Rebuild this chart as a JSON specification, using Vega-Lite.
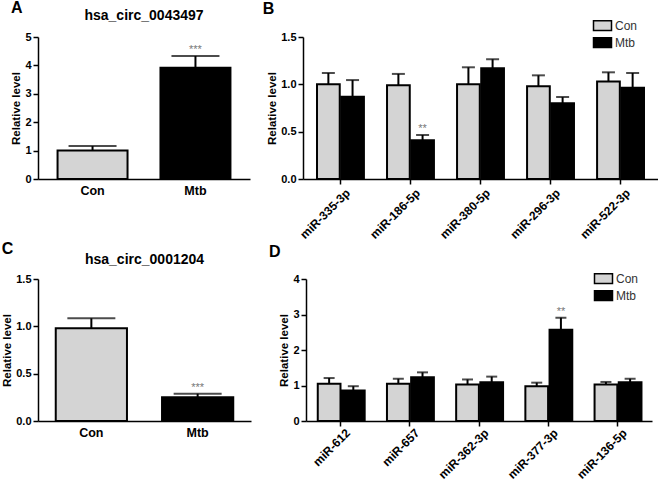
{
  "$schema": "https://vega.github.io/schema/vega-lite/v6.json",
  "padding": {"left": 1, "top": 0, "right": 0, "bottom": 0},
  "datasets": {
    "A": [
      {"group": "Con", "value": 1.0, "upper": 1.16, "sig": ""},
      {"group": "Mtb", "value": 3.92, "upper": 4.33, "sig": "***"}
    ],
    "C": [
      {"group": "Con", "value": 0.98, "upper": 1.085, "sig": ""},
      {"group": "Mtb", "value": 0.25, "upper": 0.288, "sig": "***"}
    ],
    "B": [
      {"gene": "miR-335-3p", "group": "Con", "value": 1.0, "upper": 1.12, "sig": ""},
      {"gene": "miR-335-3p", "group": "Mtb", "value": 0.87, "upper": 1.045, "sig": ""},
      {"gene": "miR-186-5p", "group": "Con", "value": 0.99, "upper": 1.11, "sig": ""},
      {"gene": "miR-186-5p", "group": "Mtb", "value": 0.41, "upper": 0.465, "sig": "**"},
      {"gene": "miR-380-5p", "group": "Con", "value": 1.0, "upper": 1.18, "sig": ""},
      {"gene": "miR-380-5p", "group": "Mtb", "value": 1.17, "upper": 1.265, "sig": ""},
      {"gene": "miR-296-3p", "group": "Con", "value": 0.98, "upper": 1.095, "sig": ""},
      {"gene": "miR-296-3p", "group": "Mtb", "value": 0.8, "upper": 0.865, "sig": ""},
      {"gene": "miR-522-3p", "group": "Con", "value": 1.03, "upper": 1.127, "sig": ""},
      {"gene": "miR-522-3p", "group": "Mtb", "value": 0.965, "upper": 1.12, "sig": ""}
    ],
    "D": [
      {"gene": "miR-612", "group": "Con", "value": 1.05, "upper": 1.21, "sig": ""},
      {"gene": "miR-612", "group": "Mtb", "value": 0.86, "upper": 0.98, "sig": ""},
      {"gene": "miR-657", "group": "Con", "value": 1.05, "upper": 1.19, "sig": ""},
      {"gene": "miR-657", "group": "Mtb", "value": 1.23, "upper": 1.37, "sig": ""},
      {"gene": "miR-362-3p", "group": "Con", "value": 1.03, "upper": 1.17, "sig": ""},
      {"gene": "miR-362-3p", "group": "Mtb", "value": 1.09, "upper": 1.25, "sig": ""},
      {"gene": "miR-377-3p", "group": "Con", "value": 0.98, "upper": 1.08, "sig": ""},
      {"gene": "miR-377-3p", "group": "Mtb", "value": 2.57, "upper": 2.91, "sig": "**"},
      {"gene": "miR-136-5p", "group": "Con", "value": 1.03, "upper": 1.1, "sig": ""},
      {"gene": "miR-136-5p", "group": "Mtb", "value": 1.09, "upper": 1.19, "sig": ""}
    ]
  },
  "resolve": {"scale": {"color": "independent"}, "legend": {"color": "independent"}},
  "vconcat": [
    {
      "resolve": {"scale": {"color": "independent"}, "legend": {"color": "independent"}},
      "hconcat": [
        {
          "title": {"text": "A", "anchor": "start", "fontSize": 16, "offset": -7},
          "vconcat": [
            {
              "title": {"text": "hsa_circ_0043497", "fontSize": 14, "anchor": "middle", "offset": 8},
              "width": 212,
              "height": 142,
              "data": {"name": "A"},
              "encoding": {
                "x": {"field": "group", "type": "nominal", "sort": null,
                  "scale": {"paddingInner": 0.32, "paddingOuter": 0.19},
                  "axis": {"title": null, "labelAngle": 0, "ticks": false, "labelFontSize": 12.5, "labelPadding": 5}},
                "y": {"field": "value", "type": "quantitative",
                  "scale": {"domain": [0, 5], "nice": false},
                  "axis": {"title": "Relative level", "values": [0, 1, 2, 3, 4, 5], "format": "d"}}
              },
              "layer": [
                {"mark": {"type": "bar", "stroke": "#000", "strokeWidth": 2},
                  "encoding": {"color": {"condition": {"test": "datum.group === 'Con'", "value": "#d4d4d4"}, "value": "#000000"}}},
                {"mark": {"type": "rule", "color": "#000", "strokeWidth": 2},
                  "encoding": {"y2": {"field": "upper"}}},
                {"mark": {"type": "tick", "color": "#000", "thickness": 2, "size": 48},
                  "encoding": {"y": {"field": "upper", "type": "quantitative"}}},
                {"transform": [{"filter": "datum.sig != ''"}],
                  "mark": {"type": "text", "baseline": "alphabetic", "dy": -3, "fontSize": 11, "color": "#777"},
                  "encoding": {"y": {"field": "upper", "type": "quantitative"}, "text": {"field": "sig"}}}
              ]
            }
          ]
        },
        {
          "title": {"text": "B", "anchor": "start", "frame": "bounds", "fontSize": 16, "dx": -4, "offset": 0},
          "width": 355,
          "height": 142,
          "data": {"name": "B"},
          "encoding": {
            "x": {"field": "gene", "type": "nominal", "sort": null,
              "scale": {"paddingInner": 0.33, "paddingOuter": 0.2},
              "axis": {"title": null, "labelAngle": -45, "labelFontSize": 12, "tickSize": 5, "labelOffset": 4, "labelPadding": 3}},
            "xOffset": {"field": "group", "type": "nominal", "sort": ["Con", "Mtb"], "scale": {"paddingInner": 0.06}},
            "y": {"field": "value", "type": "quantitative",
              "scale": {"domain": [0, 1.5], "nice": false},
              "axis": {"title": "Relative level", "values": [0, 0.5, 1, 1.5], "format": ".1f"}}
          },
          "layer": [
            {"mark": {"type": "bar", "stroke": "#000", "strokeWidth": 2},
              "encoding": {"color": {"field": "group", "type": "nominal", "scale": {"domain": ["Con", "Mtb"], "range": ["#d4d4d4", "#000000"]},
                "legend": {"title": null, "orient": "none", "legendX": 291, "legendY": -20}}}},
            {"mark": {"type": "rule", "color": "#000", "strokeWidth": 2},
              "encoding": {"y2": {"field": "upper"}}},
            {"mark": {"type": "tick", "color": "#000", "thickness": 2, "size": 13},
              "encoding": {"y": {"field": "upper", "type": "quantitative"}}},
            {"transform": [{"filter": "datum.sig != ''"}],
              "mark": {"type": "text", "baseline": "alphabetic", "dy": -3, "fontSize": 11, "color": "#777"},
              "encoding": {"y": {"field": "upper", "type": "quantitative"}, "text": {"field": "sig"}}}
          ]
        }
      ],
      "spacing": 12
    },
    {
      "resolve": {"scale": {"color": "independent"}, "legend": {"color": "independent"}},
      "hconcat": [
        {
          "title": {"text": "C", "anchor": "start", "fontSize": 16, "offset": -4},
          "vconcat": [
            {
              "title": {"text": "hsa_circ_0001204", "fontSize": 14, "anchor": "middle", "offset": 6},
              "width": 213,
              "height": 142,
              "data": {"name": "C"},
              "encoding": {
                "x": {"field": "group", "type": "nominal", "sort": null,
                  "scale": {"paddingInner": 0.33, "paddingOuter": 0.167},
                  "axis": {"title": null, "labelAngle": 0, "ticks": false, "labelFontSize": 12.5, "labelPadding": 5}},
                "y": {"field": "value", "type": "quantitative",
                  "scale": {"domain": [0, 1.5], "nice": false},
                  "axis": {"title": "Relative level", "values": [0, 0.5, 1, 1.5], "format": ".1f"}}
              },
              "layer": [
                {"mark": {"type": "bar", "stroke": "#000", "strokeWidth": 2},
                  "encoding": {"color": {"condition": {"test": "datum.group === 'Con'", "value": "#d4d4d4"}, "value": "#000000"}}},
                {"mark": {"type": "rule", "color": "#000", "strokeWidth": 2},
                  "encoding": {"y2": {"field": "upper"}}},
                {"mark": {"type": "tick", "color": "#000", "thickness": 2, "size": 48},
                  "encoding": {"y": {"field": "upper", "type": "quantitative"}}},
                {"transform": [{"filter": "datum.sig != ''"}],
                  "mark": {"type": "text", "baseline": "alphabetic", "dy": -3, "fontSize": 11, "color": "#777"},
                  "encoding": {"y": {"field": "upper", "type": "quantitative"}, "text": {"field": "sig"}}}
              ]
            }
          ]
        },
        {
          "title": {"text": "D", "anchor": "start", "frame": "bounds", "fontSize": 16, "dx": -10, "offset": 10},
          "width": 346,
          "height": 142,
          "data": {"name": "D"},
          "encoding": {
            "x": {"field": "gene", "type": "nominal", "sort": null,
              "scale": {"paddingInner": 0.34, "paddingOuter": 0.17},
              "axis": {"title": null, "labelAngle": -45, "labelFontSize": 12, "tickSize": 5, "labelOffset": 4, "labelPadding": 1}},
            "xOffset": {"field": "group", "type": "nominal", "sort": ["Con", "Mtb"], "scale": {"paddingInner": 0.06}},
            "y": {"field": "value", "type": "quantitative",
              "scale": {"domain": [0, 4], "nice": false},
              "axis": {"title": "Relative level", "values": [0, 1, 2, 3, 4], "format": "d"}}
          },
          "layer": [
            {"mark": {"type": "bar", "stroke": "#000", "strokeWidth": 2},
              "encoding": {"color": {"field": "group", "type": "nominal", "scale": {"domain": ["Con", "Mtb"], "range": ["#d4d4d4", "#000000"]},
                "legend": {"title": null, "orient": "none", "legendX": 289, "legendY": -9}}}},
            {"mark": {"type": "rule", "color": "#000", "strokeWidth": 2},
              "encoding": {"y2": {"field": "upper"}}},
            {"mark": {"type": "tick", "color": "#000", "thickness": 2, "size": 11},
              "encoding": {"y": {"field": "upper", "type": "quantitative"}}},
            {"transform": [{"filter": "datum.sig != ''"}],
              "mark": {"type": "text", "baseline": "alphabetic", "dy": -3, "fontSize": 11, "color": "#777"},
              "encoding": {"y": {"field": "upper", "type": "quantitative"}, "text": {"field": "sig"}}}
          ]
        }
      ],
      "spacing": 17
    }
  ],
  "spacing": 0,
  "config": {
    "font": "Liberation Sans",
    "view": {"stroke": null},
    "title": {"font": "Liberation Sans", "fontWeight": "bold", "color": "#000"},
    "axis": {
      "grid": false,
      "domainColor": "#000",
      "domainWidth": 1.5,
      "tickColor": "#000",
      "tickWidth": 1.5,
      "tickSize": 5,
      "labelColor": "#000",
      "labelFont": "Liberation Sans",
      "labelFontWeight": "bold",
      "labelFontSize": 11,
      "labelPadding": 2,
      "titleColor": "#000",
      "titleFont": "Liberation Sans",
      "titleFontWeight": "bold",
      "titleFontSize": 11.5,
      "titlePadding": 3
    },
    "legend": {
      "padding": 0,
      "symbolType": "M-1.2,-0.65H1.2V0.65H-1.2Z",
      "symbolSize": 225,
      "symbolStrokeColor": "#000",
      "symbolStrokeWidth": 1.5,
      "symbolOpacity": 1,
      "labelFont": "Liberation Sans",
      "labelFontSize": 12,
      "labelColor": "#333",
      "labelOffset": 4,
      "rowPadding": 0
    }
  }
}
